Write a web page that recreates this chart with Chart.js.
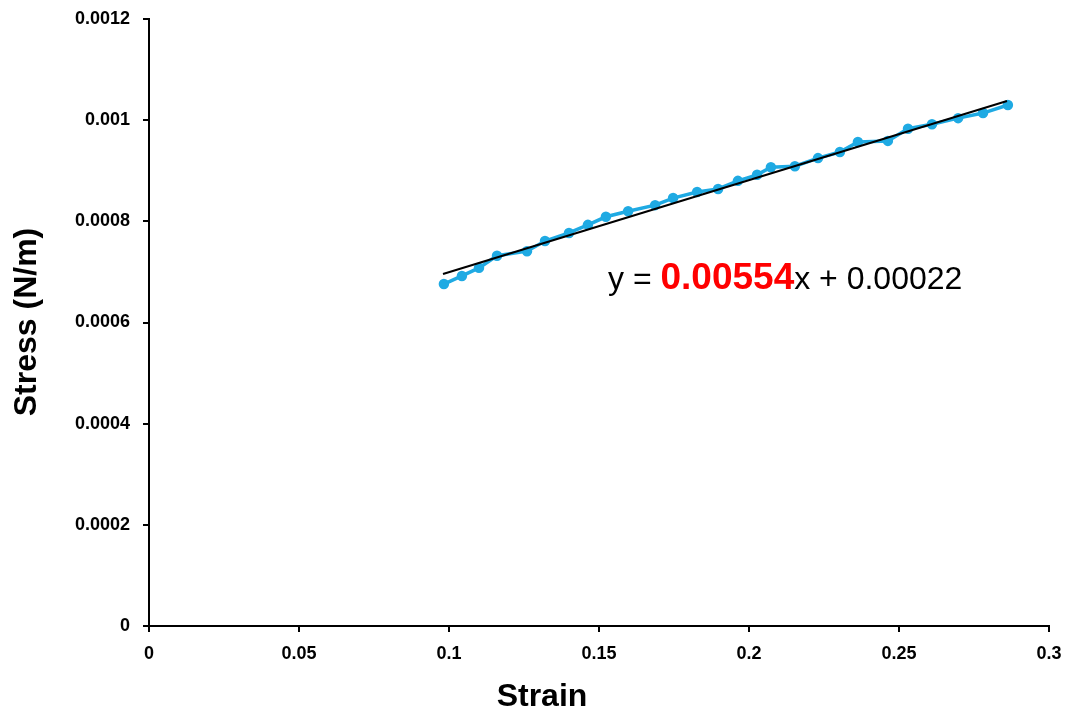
<!DOCTYPE html>
<html>
<head>
<meta charset="utf-8">
<script src="https://cdn.jsdelivr.net/npm/chart.js@4/dist/chart.umd.min.js"></script>
<style>
html,body{margin:0;padding:0;background:#fff;}
#c{display:block;}
</style>
</head>
<body>
<canvas id="c" width="1074" height="719"></canvas>
<script>
const strain = [0.0983,0.1043,0.110,0.116,0.126,0.132,0.140,0.1463,0.1523,0.1597,0.1687,0.1747,0.1827,0.1897,0.1963,0.2027,0.2073,0.2153,0.223,0.2303,0.2363,0.2463,0.253,0.261,0.2697,0.278,0.2863];
const stress = [0.000676,0.000692,0.000708,0.000732,0.000741,0.000761,0.000777,0.000793,0.000809,0.00082,0.000832,0.000846,0.000858,0.000864,0.00088,0.000892,0.000907,0.000909,0.000925,0.000937,0.000957,0.000959,0.000983,0.000992,0.001004,0.001014,0.00103];
const trendX = [0.098,0.286];
const trendY = [0.000696,0.001038];
const xTitle = "Strain";
const yTitle = "Stress (N/m)";
const eqParts = [["y = ","#000","normal",32],["0.00554","#ff0000","bold",37],["x + 0.00022","#000","normal",32]];

const mainPts = strain.map((x,i)=>({x:x,y:stress[i]}));
const trendPts = trendX.map((x,i)=>({x:x,y:trendY[i]}));

const FONT = "'Liberation Sans', Arial, sans-serif";

const overlay = {
  id:'overlay',
  afterDraw(chart){
    const ctx = chart.ctx;
    ctx.save();
    ctx.fillStyle = '#000';
    ctx.font = "bold 32px " + FONT;
    ctx.textAlign = 'center';
    ctx.textBaseline = 'middle';
    ctx.fillText(xTitle, 542, 697);
    ctx.translate(27, 322);
    ctx.rotate(-Math.PI/2);
    ctx.fillText(yTitle, 0, 0);
    ctx.restore();
    ctx.save();
    ctx.textAlign='left';
    ctx.textBaseline='alphabetic';
    let x = 608;
    const base = 289;
    for (const p of eqParts){
      ctx.font = p[2] + " " + p[3] + "px " + FONT;
      ctx.fillStyle = p[1];
      ctx.fillText(p[0], x, base);
      x += ctx.measureText(p[0]).width;
    }
    ctx.restore();
  }
};

new Chart(document.getElementById('c'), {
  type:'scatter',
  data:{
    datasets:[
      {data:mainPts, showLine:true, borderColor:'#1FAAE3', backgroundColor:'#1FAAE3', borderWidth:3.5, pointRadius:3.5, pointHoverRadius:3.5, order:2},
      {data:trendPts, showLine:true, borderColor:'#000', borderWidth:2, pointRadius:0, order:1}
    ]
  },
  options:{
    responsive:false,
    animation:false,
    events:[],
    layout:{padding:{left:0,right:25,top:19,bottom:0}},
    plugins:{legend:{display:false},tooltip:{enabled:false}},
    scales:{
      x:{
        type:'linear', min:0, max:0.3,
        afterFit(s){ s.height = 93; s.paddingLeft = 0; s.paddingRight = 0; },
        ticks:{stepSize:0.05, maxRotation:0, autoSkip:false, color:'#000', padding:11,
          font:{family:FONT, size:18, weight:'bold'},
          callback:v=>String(parseFloat(v.toFixed(2)))},
        grid:{drawOnChartArea:false, drawTicks:true, tickLength:6, color:'#000', lineWidth:2},
        border:{color:'#000', width:2}
      },
      y:{
        type:'linear', min:0, max:0.0012,
        afterFit(s){ s.width = 149; s.paddingTop = 0; s.paddingBottom = 0; },
        ticks:{stepSize:0.0002, color:'#000', padding:13,
          font:{family:FONT, size:18, weight:'bold'},
          callback:v=>String(parseFloat(v.toFixed(4)))},
        grid:{drawOnChartArea:false, drawTicks:true, tickLength:6, color:'#000', lineWidth:2},
        border:{color:'#000', width:2}
      }
    }
  },
  plugins:[overlay]
});
</script>
</body>
</html>
